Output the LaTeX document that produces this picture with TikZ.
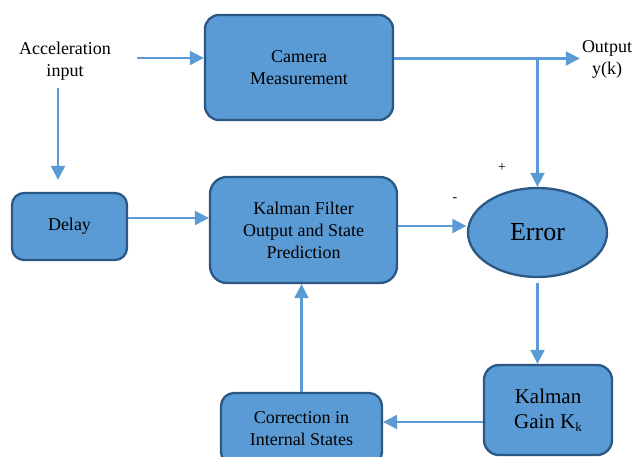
\documentclass[tikz,border=0pt]{standalone}
\usepackage{fontspec}
\setmainfont{Liberation Serif}
\usetikzlibrary{arrows.meta,shapes.geometric}
\definecolor{boxfill}{HTML}{5B9BD5}
\definecolor{boxline}{HTML}{2A5783}
\definecolor{arrowc}{HTML}{5B9BD5}
\tikzset{
  blk/.style={draw=boxline, fill=boxfill, line width=2.3pt, rounded corners=14pt,
    align=center, inner sep=0pt, font=\fontsize{18}{22}\selectfont},
  plain/.style={align=center, inner sep=1pt, font=\fontsize{18}{22}\selectfont},
  arr/.style={draw=arrowc, line width=2.2pt, -{Triangle[length=14pt,width=14pt]}},
  sign/.style={inner sep=0pt, font=\fontsize{14}{14}\selectfont}
}
\begin{document}
\begin{tikzpicture}[x=1pt,y=-1pt]
\useasboundingbox (0,0) rectangle (633,457);
% nodes
\node[blk, minimum width=188pt, minimum height=105pt] (cam) at (299,67.5) {Camera\\Measurement};
\node[blk, minimum width=115pt, minimum height=67pt, rounded corners=12pt] (delay) at (69.5,226.5) {Delay};
\node[blk, minimum width=187pt, minimum height=106pt, rounded corners=17pt] (kf) at (303.5,230) {Kalman Filter\\Output and State\\Prediction};
\node[ellipse, draw=boxline, fill=boxfill, line width=2.3pt, inner sep=0pt,
      minimum width=139pt, minimum height=89pt, font=\fontsize{26}{30}\selectfont] (err) at (537.5,232.5) {Error};
\node[blk, minimum width=128pt, minimum height=90pt, rounded corners=15pt,
      font=\fontsize{21}{25}\selectfont] (gain) at (548,410) {Kalman\\Gain K\raisebox{-0.35ex}{\fontsize{13}{13}\selectfont k}};
\node[blk, minimum width=161pt, minimum height=72pt, rounded corners=13pt] (corr) at (301.5,429) {Correction in\\Internal States};
\node[plain] (acc) at (65,61) {Acceleration\\input};
\node[plain, inner sep=0pt] (out) at (607,59) {Output\\y(k)};
\node[sign] (plus) at (502,168) {+};
\node[sign] (minus) at (455,200) {-};
% free ends
\coordinate (a1) at (137,58);
\coordinate (a2) at (58,88);
\coordinate (br) at (537.5,58.5);
% connectors
\draw[arr] (a1) -- (a1 -| cam.west);
\draw[arr, shorten >=12pt] (a2) -- (a2 |- delay.north);
\draw[arr] ([yshift=8.5pt]delay.east) -- ([yshift=8.5pt]delay.east -| kf.west);
\draw[arr] (cam.east |- br) -- ([xshift=-2pt]out.west |- br);
\draw[arr] (br) -- (err.north);
\draw[arr] ([yshift=4pt]kf.east) -- ([yshift=4pt,xshift=-0.5pt]kf.east -| err.west);
\draw[arr, shorten <=5pt] (err.south) -- (err.south |- gain.north);
\draw[arr] ([yshift=-12pt]gain.west) -- ([yshift=-12pt]gain.west -| corr.east);
\draw[arr] (corr.north) -- (corr.north |- kf.south);
\end{tikzpicture}
\end{document}
